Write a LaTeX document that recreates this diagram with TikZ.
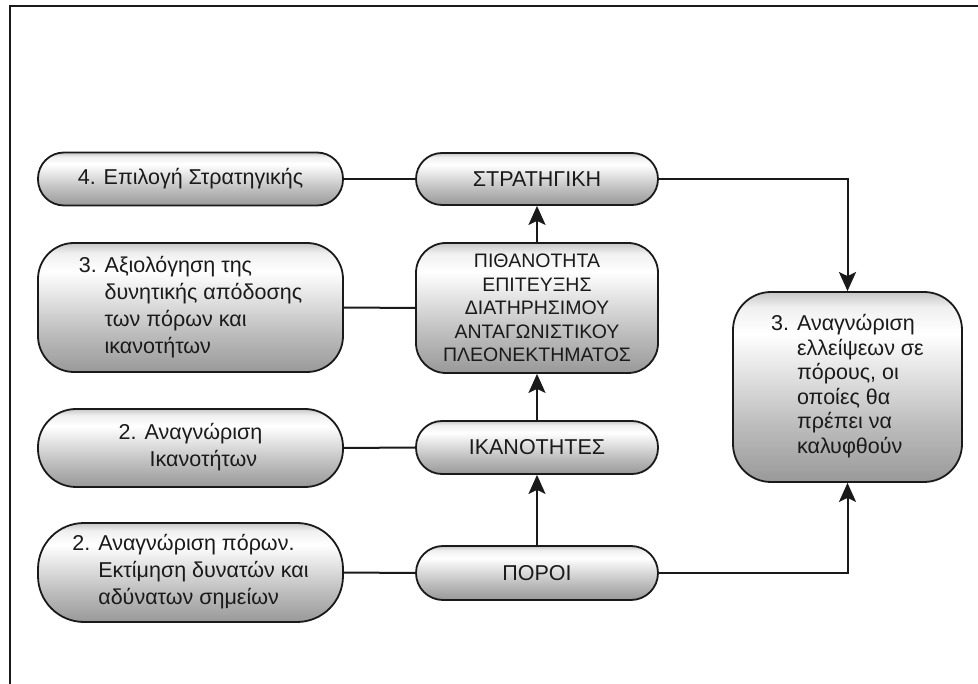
\documentclass[tikz,border=0pt]{standalone}
\usepackage{fontspec}
\setmainfont{Liberation Sans}
\usetikzlibrary{arrows.meta}

% grey "glass" fill of the boxes: light rim at the top, white band, grey base
\pgfdeclareverticalshading{boxshade}{100bp}{%
  color(0bp)=(black!40);
  color(25bp)=(black!40);
  color(40bp)=(black!26);
  color(64bp)=(white);
  color(71bp)=(black!6);
  color(75bp)=(black!22);
  color(100bp)=(black!22)}

\definecolor{ink}{HTML}{1A1A1A}

\tikzset{
  box/.style={draw=ink, line width=1.8pt, shading=boxshade, text=ink,
    inner sep=0pt, font=\fontsize{21.5}{27}\selectfont},
  leftbox/.style={box, minimum width=305pt},
  midbox/.style={box, minimum width=242pt},
  link/.style={draw=ink, line width=2pt},
  flow/.style={link, -{Stealth[length=19pt,width=17pt,inset=4pt]}},
  frameline/.style={draw=ink, line width=2pt}
}

\begin{document}
\begin{tikzpicture}[x=1pt,y=-1pt]
\useasboundingbox (0,0) rectangle (978,684);

% page frame (top and left edges only)
\draw[frameline] (10,684) -- (10,6) -- (978,6);

% left column: steps
\node[leftbox, minimum height=53pt, rounded corners=26pt] (step4) at (190.5,179)
  {4. Επιλογή Στρατηγικής};
\node[leftbox, minimum height=129pt, rounded corners=36pt] (step3) at (190.5,307.5)
  {\begin{tabular}{@{}l@{ }l@{}}3.&Αξιολόγηση της\\ &δυνητικής απόδοσης\\ &των πόρων και\\ &ικανοτήτων\end{tabular}};
\node[leftbox, minimum height=78pt, rounded corners=38pt] (step2a) at (190.5,448)
  {\begin{tabular}{@{}r@{ }c@{}}2.&Αναγνώριση\\ &Ικανοτήτων\end{tabular}};
\node[leftbox, minimum height=99pt, rounded corners=46pt] (step2b) at (190.5,572.5)
  {\begin{tabular}{@{}l@{ }l@{}}2.&Αναγνώριση πόρων.\\ &Εκτίμηση δυνατών και\\ &αδύνατων σημείων\end{tabular}};

% middle column: chain from resources to strategy
\node[midbox, minimum height=52pt, rounded corners=26pt] (strat) at (537,179)
  {ΣΤΡΑΤΗΓΙΚΗ};
\node[midbox, minimum height=130pt, rounded corners=30pt, align=center,
  font=\fontsize{19.5}{23.5}\selectfont] (sca) at (537,308)
  {ΠΙΘΑΝΟΤΗΤΑ\\ ΕΠΙΤΕΥΞΗΣ\\ ΔΙΑΤΗΡΗΣΙΜΟΥ\\ ΑΝΤΑΓΩΝΙΣΤΙΚΟΥ\\ ΠΛΕΟΝΕΚΤΗΜΑΤΟΣ};
\node[midbox, minimum height=53pt, rounded corners=26pt] (capab) at (537,447.5)
  {ΙΚΑΝΟΤΗΤΕΣ};
\node[midbox, minimum height=54pt, rounded corners=27pt] (resrc) at (537,573)
  {ΠΟΡΟΙ};

% right column: resource gaps
\node[box, minimum width=229pt, minimum height=190pt, rounded corners=38pt,
  font=\fontsize{21.5}{24.5}\selectfont] (gaps) at (847.5,387)
  {\begin{tabular}{@{}l@{ }l@{}}3.&Αναγνώριση\\ &ελλείψεων σε\\ &πόρους, οι\\ &οποίες θα\\ &πρέπει να\\ &καλυφθούν\end{tabular}};

% plain links from the steps to the chain
\draw[link] (step4.east) -- (strat.west);
\draw[link] (step3.east) -- (sca.west);
\draw[link] (step2a.east) -- (capab.west);
\draw[link] (step2b.east) -- (resrc.west);

% upward flow through the chain
\draw[flow] (resrc.north) -- (capab.south);
\draw[flow] (capab.north) -- (sca.south);
\draw[flow] (sca.north) -- (strat.south);

% feeds into the gap analysis
\draw[flow] (strat.east) -| (gaps.north);
\draw[flow] (resrc.east) -| (gaps.south);
\end{tikzpicture}
\end{document}
